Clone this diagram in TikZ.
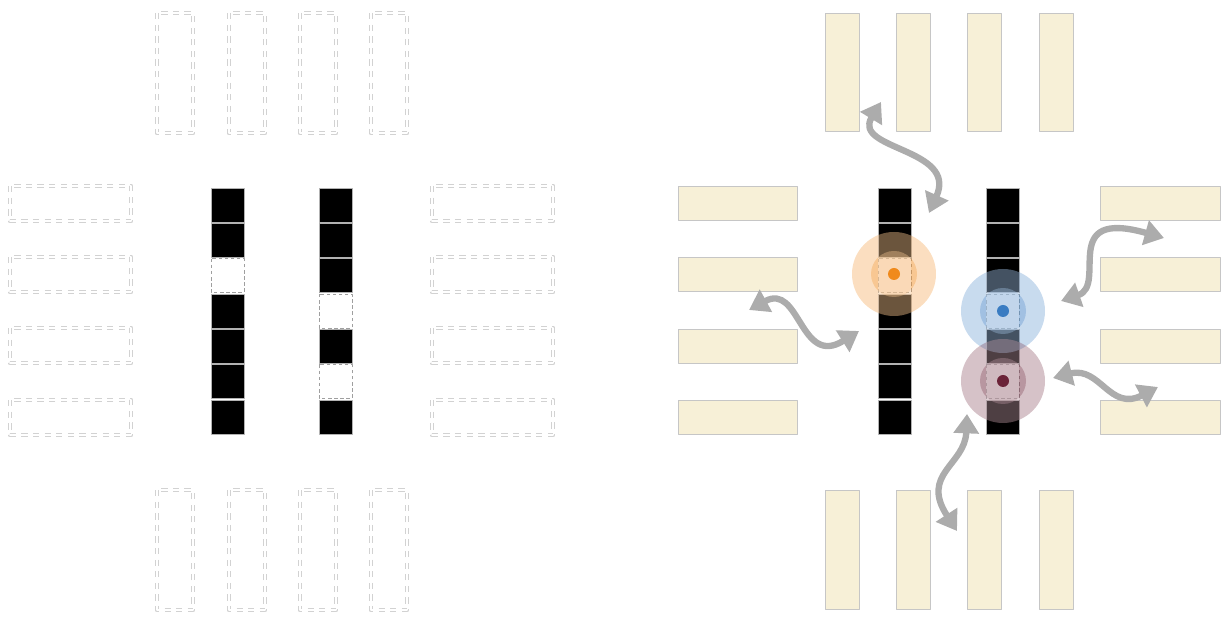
\documentclass[tikz,border=0pt]{standalone}
\usetikzlibrary{arrows.meta}
\definecolor{cream}{HTML}{F7F0D7}
\definecolor{dotorange}{HTML}{F08A1C}
\definecolor{dotblue}{HTML}{3A7CC2}
\definecolor{dotred}{HTML}{6B2338}
\tikzset{
  ghost/.style={draw=gray!35,line width=.7pt,double=white,double distance=1.4pt,dash pattern=on 3.6pt off 3pt},
  slab/.style={fill=cream,draw=gray!45,line width=.4pt},
  cell/.style={fill=black,draw=gray!60,line width=.3pt},
  hole/.style={draw=gray!75,line width=.4pt,dash pattern=on 2pt off 1.5pt},
  swap/.style={draw=gray!65,line width=3.6pt,line cap=butt,{Triangle[length=11pt,width=14pt]}-{Triangle[length=11pt,width=14pt]}}
}
\begin{document}
\begin{tikzpicture}[x=0.02cm,y=-0.02cm,line join=round]
\useasboundingbox (0,0) rectangle (1221,617);
\foreach \x in {157,229,300,371}{
  \draw[ghost] (\x,13) rectangle ++(36,120);
  \draw[ghost] (\x,490) rectangle ++(36,120);
}
\foreach \y in {186,257,328,400}{
  \draw[ghost] (10,\y) rectangle ++(121,35);
  \draw[ghost] (432,\y) rectangle ++(121,35);
}
\foreach \x in {825,896,967,1039}{
  \draw[slab] (\x,13) rectangle ++(34,118);
  \draw[slab] (\x,490) rectangle ++(34,119);
}
\foreach \y in {186,257,329,400}{
  \draw[slab] (678,\y) rectangle ++(119,34);
  \draw[slab] (1100,\y) rectangle ++(120,34);
}
\foreach \dx in {0,667}{
  \foreach \i in {0,1,3,4,5,6} \draw[cell] (211+\dx,188+35.3*\i) rectangle ++(33,34);
  \foreach \i in {0,1,2,4,6} \draw[cell] (319+\dx,188+35.3*\i) rectangle ++(33,34);
  \draw[hole] (211+\dx,188+35.3*2) rectangle ++(33,34);
  \foreach \i in {3,5} \draw[hole] (319+\dx,188+35.3*\i) rectangle ++(33,34);
}
\foreach \c/\x/\y in {dotorange/894/274,dotblue/1003/311,dotred/1003/381}{
  \fill[\c,opacity=.28] (\x,\y) circle[radius=42];
  \fill[\c,opacity=.28] (\x,\y) circle[radius=23];
  \begin{scope}
    \clip (878,188) rectangle (911,435) (986,188) rectangle (1019,435);
    \fill[white,opacity=.22] (\x,\y) circle[radius=42];
    \fill[white,opacity=.15] (\x,\y) circle[radius=23];
  \end{scope}
  \fill[\c] (\x,\y) circle[radius=6];
}
\coordinate (up1) at (881,102);
\coordinate (up2) at (929,213);
\coordinate (lf1) at (749,310);
\coordinate (lf2) at (859,331);
\coordinate (rt1) at (1061,301);
\coordinate (rt2) at (1164,238);
\coordinate (rb1) at (1053,378);
\coordinate (rb2) at (1158,387);
\coordinate (dn1) at (967,414);
\coordinate (dn2) at (957,531);
\draw[swap] (up1) .. controls (852,150) and (958,148) .. (up2);
\draw[swap] (lf1) .. controls (800,282) and (800,368) .. (lf2);
\draw[swap] (rt1) .. controls (1108,285) and (1058,208) .. (rt2);
\draw[swap] (rb1) .. controls (1100,366) and (1110,412) .. (rb2);
\draw[swap] (dn1) .. controls (965,465) and (920,474) .. (dn2);
\end{tikzpicture}
\end{document}
